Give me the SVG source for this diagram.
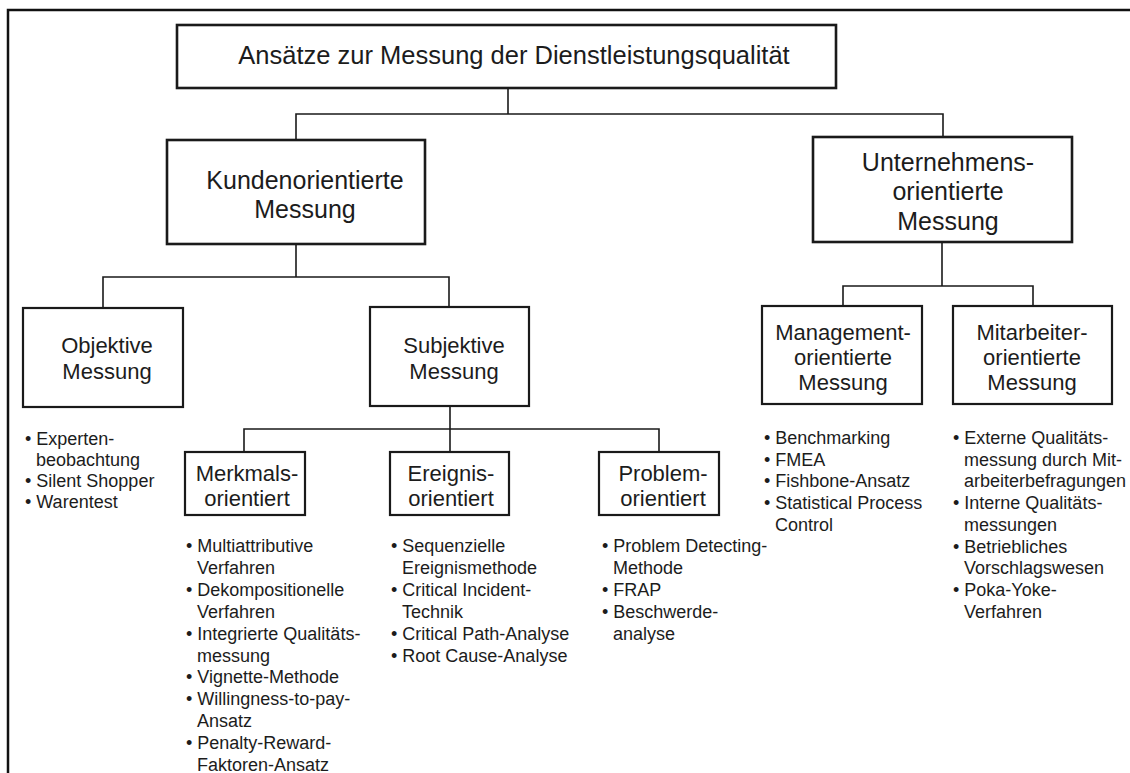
<svg xmlns="http://www.w3.org/2000/svg" width="1130" height="773" viewBox="0 0 1130 773">
  <style>
    .frame { fill: none; stroke: #111; stroke-width: 2.5; }
    .box { fill: #fff; stroke: #1a1a1a; stroke-width: 2.2; }
    .box-main { fill: #fff; stroke: #1a1a1a; stroke-width: 2.6; }
    .link { fill: none; stroke: #1a1a1a; stroke-width: 1.6; }
    text { font-family: "Liberation Sans", Arial, Helvetica, sans-serif; fill: #1c1c1c; }
    .t1 { font-size: 25.5px; text-anchor: middle; }
    .t2 { font-size: 25px; text-anchor: middle; }
    .t3 { font-size: 22px; text-anchor: middle; }
    .li { font-size: 18px; }
  </style>

  <!-- page frame (top and left edge) -->
  <path class="frame" d="M8 773 V10 H1130"/>

  <!-- connectors -->
  <g id="connectors">
    <path class="link" d="M508 88 V114 M296 140 V114 H943 V137"/>
    <path class="link" d="M296 244 V277 M103 308 V277 H449 V307"/>
    <path class="link" d="M450 406 V429 M244 452 V429 H659 V452 M450 429 V452"/>
    <path class="link" d="M942 242 V286 M843 306 V286 H1033 V306"/>
  </g>

  <!-- root -->
  <g id="root">
    <rect class="box-main" x="177" y="25" width="659" height="63"/>
    <text class="t1" x="514" y="64">Ansätze zur Messung der Dienstleistungsqualität</text>
  </g>

  <!-- second level -->
  <g id="kundenorientiert">
    <rect class="box-main" x="167" y="140" width="258" height="104"/>
    <text class="t2" x="305" y="189">Kundenorientierte</text>
    <text class="t2" x="305" y="218">Messung</text>
  </g>
  <g id="unternehmensorientiert">
    <rect class="box-main" x="813" y="137" width="259" height="105"/>
    <text class="t2" x="948" y="171">Unternehmens-</text>
    <text class="t2" x="948" y="200">orientierte</text>
    <text class="t2" x="948" y="230">Messung</text>
  </g>

  <!-- third level -->
  <g id="objektiv">
    <rect class="box" x="23" y="308" width="160" height="99"/>
    <text class="t3" x="107" y="353">Objektive</text>
    <text class="t3" x="107" y="379">Messung</text>
    <text class="li" y="445">
      <tspan x="25">• Experten-</tspan>
      <tspan x="36" dy="21">beobachtung</tspan>
      <tspan x="25" dy="21">• Silent Shopper</tspan>
      <tspan x="25" dy="21">• Warentest</tspan>
    </text>
  </g>
  <g id="subjektiv">
    <rect class="box" x="370" y="307" width="159" height="99"/>
    <text class="t3" x="454" y="353">Subjektive</text>
    <text class="t3" x="454" y="379">Messung</text>
  </g>
  <g id="management">
    <rect class="box" x="762" y="306" width="160" height="98"/>
    <text class="t3" x="843" y="340">Management-</text>
    <text class="t3" x="843" y="365">orientierte</text>
    <text class="t3" x="843" y="390">Messung</text>
    <text class="li" y="444">
      <tspan x="764">• Benchmarking</tspan>
      <tspan x="764" dy="21.7">• FMEA</tspan>
      <tspan x="764" dy="21.7">• Fishbone-Ansatz</tspan>
      <tspan x="764" dy="21.7">• Statistical Process</tspan>
      <tspan x="775" dy="21.7">Control</tspan>
    </text>
  </g>
  <g id="mitarbeiter">
    <rect class="box" x="953" y="306" width="159" height="98"/>
    <text class="t3" x="1032" y="340">Mitarbeiter-</text>
    <text class="t3" x="1032" y="365">orientierte</text>
    <text class="t3" x="1032" y="390">Messung</text>
    <text class="li" y="444">
      <tspan x="953">• Externe Qualitäts-</tspan>
      <tspan x="964" dy="21.7">messung durch Mit-</tspan>
      <tspan x="964" dy="21.7">arbeiterbefragungen</tspan>
      <tspan x="953" dy="21.7">• Interne Qualitäts-</tspan>
      <tspan x="964" dy="21.7">messungen</tspan>
      <tspan x="953" dy="21.7">• Betriebliches</tspan>
      <tspan x="964" dy="21.7">Vorschlagswesen</tspan>
      <tspan x="953" dy="21.7">• Poka-Yoke-</tspan>
      <tspan x="964" dy="21.7">Verfahren</tspan>
    </text>
  </g>

  <!-- fourth level -->
  <g id="merkmalsorientiert">
    <rect class="box" x="185" y="452" width="120" height="63"/>
    <text class="t3" x="247" y="481">Merkmals-</text>
    <text class="t3" x="247" y="506">orientiert</text>
    <text class="li" y="552">
      <tspan x="186">• Multiattributive</tspan>
      <tspan x="197" dy="21.9">Verfahren</tspan>
      <tspan x="186" dy="21.9">• Dekompositionelle</tspan>
      <tspan x="197" dy="21.9">Verfahren</tspan>
      <tspan x="186" dy="21.9">• Integrierte Qualitäts-</tspan>
      <tspan x="197" dy="21.9">messung</tspan>
      <tspan x="186" dy="21.9">• Vignette-Methode</tspan>
      <tspan x="186" dy="21.9">• Willingness-to-pay-</tspan>
      <tspan x="197" dy="21.9">Ansatz</tspan>
      <tspan x="186" dy="21.9">• Penalty-Reward-</tspan>
      <tspan x="197" dy="21.9">Faktoren-Ansatz</tspan>
    </text>
  </g>
  <g id="ereignisorientiert">
    <rect class="box" x="390" y="452" width="119" height="63"/>
    <text class="t3" x="451" y="481">Ereignis-</text>
    <text class="t3" x="451" y="506">orientiert</text>
    <text class="li" y="552">
      <tspan x="391">• Sequenzielle</tspan>
      <tspan x="402" dy="21.9">Ereignismethode</tspan>
      <tspan x="391" dy="21.9">• Critical Incident-</tspan>
      <tspan x="402" dy="21.9">Technik</tspan>
      <tspan x="391" dy="21.9">• Critical Path-Analyse</tspan>
      <tspan x="391" dy="21.9">• Root Cause-Analyse</tspan>
    </text>
  </g>
  <g id="problemorientiert">
    <rect class="box" x="599" y="452" width="120" height="63"/>
    <text class="t3" x="663" y="481">Problem-</text>
    <text class="t3" x="663" y="506">orientiert</text>
    <text class="li" y="552">
      <tspan x="602">• Problem Detecting-</tspan>
      <tspan x="613" dy="21.9">Methode</tspan>
      <tspan x="602" dy="21.9">• FRAP</tspan>
      <tspan x="602" dy="21.9">• Beschwerde-</tspan>
      <tspan x="613" dy="21.9">analyse</tspan>
    </text>
  </g>
</svg>
